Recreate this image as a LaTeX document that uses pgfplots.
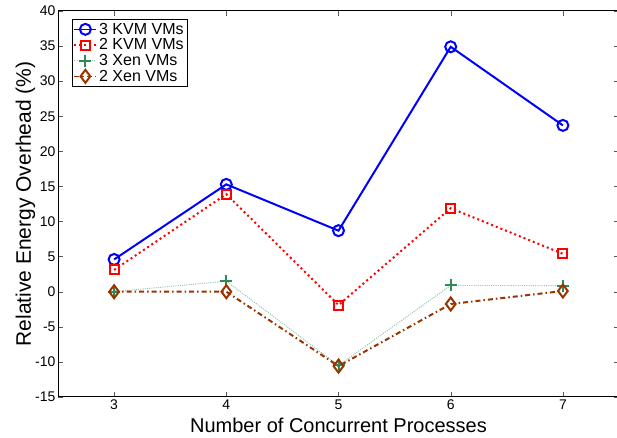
\documentclass[border=0pt]{standalone}
\usepackage{pgfplots}
\pgfplotsset{compat=1.18}
\usepackage{fontspec}
\setmainfont{Liberation Sans}
\definecolor{xengreen}{RGB}{46,139,87}
\definecolor{xenbrown}{RGB}{153,51,0}
\begin{document}
\begin{tikzpicture}
\begin{axis}[
  at={(0pt,0pt)}, anchor=south west,
  scale only axis, width=561pt, height=386pt,
  xmin=2.5, xmax=7.5, ymin=-15, ymax=40,
  xtick={3,4,5,6,7}, ytick={-15,-10,...,40},
  tick align=inside, major tick length=5pt,
  tick style={gray!70!black, thin},
  axis line style={black, line width=1pt},
  every tick label/.append style={font=\fontsize{14}{16}\selectfont},
  xticklabel style={yshift=1pt},
  yticklabel style={xshift=1pt},
  /pgf/number format/assume math mode=true,
  xlabel={Number of Concurrent Processes},
  ylabel={Relative Energy Overhead (\%)},
  xlabel style={font=\fontsize{20}{22}\selectfont, at={(axis description cs:0.5,0)}, anchor=base, yshift=-35pt},
  ylabel style={font=\fontsize{21}{23}\selectfont, at={(axis description cs:0,0.5)}, anchor=base, yshift=27pt},
  legend style={at={(0.0245,0.979)}, anchor=north west, draw=black, line width=0.8pt,
    font=\fontsize{16}{19}\selectfont, inner sep=1.5pt, row sep=-1pt,
    legend cell align=left},
  legend image code/.code={\draw[mark repeat=2, mark phase=2, #1] plot coordinates {(0pt,0pt) (11pt,0pt) (22pt,0pt)};},
  legend image post style={line width=1.5pt},
]
\addplot[blue, line width=2pt, mark=o, mark size=5.5pt, mark options={solid, line width=2pt}]
  coordinates {(3,4.6) (4,15.3) (5,8.7) (6,34.9) (7,23.7)};
\addlegendentry{3 KVM VMs}
\addplot[red, line width=2pt, dash pattern=on 2pt off 3pt, mark=square, mark size=4.5pt, mark options={solid, line width=2pt}]
  coordinates {(3,3.1) (4,13.9) (5,-1.9) (6,11.9) (7,5.4)};
\addlegendentry{2 KVM VMs}
\addplot[xengreen!50!white, line width=1pt, dash pattern=on 1pt off 1.2pt, mark=+, mark size=6pt, mark options={solid, xengreen, line width=2pt}]
  coordinates {(3,0) (4,1.5) (5,-10.5) (6,0.9) (7,0.85)};
\addlegendentry{3 Xen VMs}
\addplot[xenbrown, line width=2pt, dash pattern=on 5pt off 3pt on 1.5pt off 3pt, mark=diamond, mark size=6.5pt, mark options={solid, line width=2pt}]
  coordinates {(3,0) (4,0) (5,-10.6) (6,-1.75) (7,0.1)};
\addlegendentry{2 Xen VMs}
\end{axis}
\pgfresetboundingbox
\path (-58pt,-41pt) rectangle (559pt,397pt);
\end{tikzpicture}
\end{document}
